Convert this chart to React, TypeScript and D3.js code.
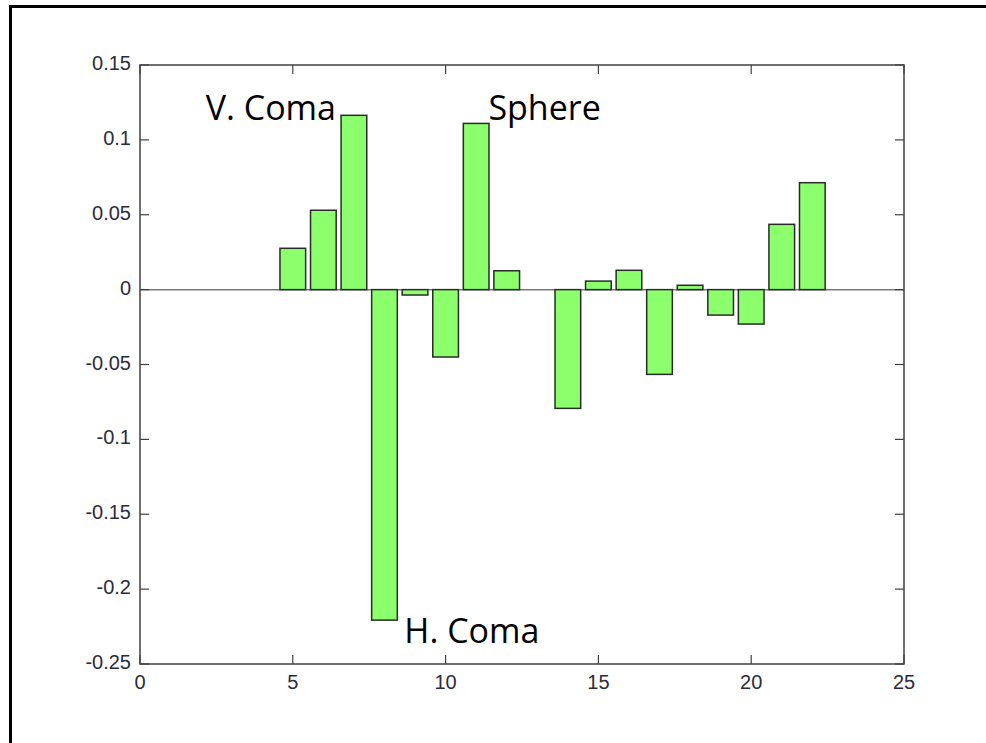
import React from "react";
import * as d3 from "d3";

const positions = [1, 2, 3, 4, 5, 6, 7, 8, 9, 10, 11, 12, 13, 14, 15, 16, 17, 18, 19, 20, 21, 22];
const values = [0, 0, 0, 0, 0.0276, 0.053, 0.1164, -0.2207, -0.0036, -0.045, 0.111, 0.0126, 0, -0.0793, 0.0057, 0.0129, -0.0566, 0.0029, -0.017, -0.023, 0.0436, 0.0714];
const xTicks = [0, 5, 10, 15, 20, 25];
const yTicks = [0.15, 0.1, 0.05, 0, -0.05, -0.1, -0.15, -0.2, -0.25];
const annotations = [
  { text: "V. Coma", x: 2.15, y: 0.113 },
  { text: "Sphere", x: 11.4, y: 0.113 },
  { text: "H. Coma", x: 8.65, y: -0.236 },
];

export default function App() {
  const L = 140, R = 904, T = 65, B = 664;
  const x = d3.scaleLinear().domain([0, 25]).range([L, R]);
  const y = d3.scaleLinear().domain([-0.25, 0.15]).range([B, T]);
  const bw = x(0.84) - x(0);
  const axisColor = "#404040";
  const tickLen = 9;
  const labelFont = "'Liberation Sans', Arial, sans-serif";
  return (
    <svg width={986} height={743} style={{ position: "absolute", left: 0, top: 0, background: "#fff" }}>
      <rect x={10.5} y={6.5} width={1000} height={800} fill="none" stroke="#000" strokeWidth={3} />
      <line x1={L} x2={R} y1={y(0)} y2={y(0)} stroke="#7a7a7a" strokeWidth={1.5} />
      {positions.map((p, i) => {
        const v = values[i];
        if (v === 0) return null;
        const y0 = y(Math.max(0, v));
        const h = Math.abs(y(v) - y(0));
        return (
          <rect key={p} x={x(p) - bw / 2} y={y0} width={bw} height={h}
            fill="#8cff6c" stroke="#2a2a2a" strokeWidth={1.5} />
        );
      })}
      <rect x={L} y={T} width={R - L} height={B - T} fill="none" stroke={axisColor} strokeWidth={1.5} />
      {xTicks.map((t) => (
        <g key={"x" + t}>
          <line x1={x(t)} x2={x(t)} y1={B} y2={B - tickLen} stroke={axisColor} strokeWidth={1.2} />
          <line x1={x(t)} x2={x(t)} y1={T} y2={T + tickLen} stroke={axisColor} strokeWidth={1.2} />
          <text x={x(t)} y={B + 25} textAnchor="middle" fontFamily={labelFont} fontSize={20} fill="#2b2b3b">{t}</text>
        </g>
      ))}
      {yTicks.map((t) => (
        <g key={"y" + t}>
          <line x1={L} x2={L + tickLen} y1={y(t)} y2={y(t)} stroke={axisColor} strokeWidth={1.2} />
          <line x1={R} x2={R - tickLen} y1={y(t)} y2={y(t)} stroke={axisColor} strokeWidth={1.2} />
          <text x={L - 9} y={y(t) + 5} textAnchor="end" fontFamily={labelFont} fontSize={20} fill="#2b2b3b">{String(t)}</text>
        </g>
      ))}
      {annotations.map((a) => (
        <text key={a.text} x={x(a.x)} y={y(a.y)} fontFamily="'Open Sans', 'Noto Sans', sans-serif" fontSize={34} fill="#000">{a.text}</text>
      ))}
    </svg>
  );
}
